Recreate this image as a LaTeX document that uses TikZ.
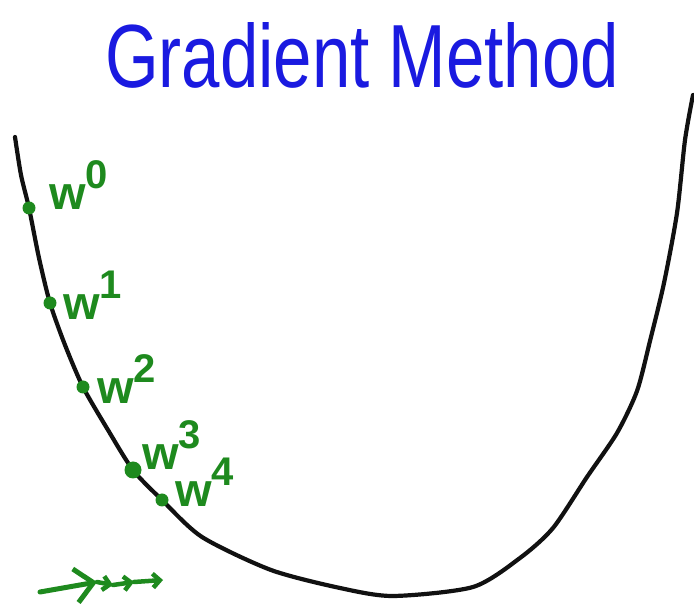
\documentclass[tikz,border=0pt]{standalone}
\usepackage{fontspec}
\setmainfont{Liberation Sans}
\usepackage{tikz}
\usetikzlibrary{arrows.meta}
\definecolor{cTitle}{HTML}{1A1AE0}
\definecolor{cIter}{HTML}{1E8A1E}
\definecolor{cInk}{HTML}{111111}
\newcommand\witer[1]{w\raisebox{0.45em}{\fontsize{40}{40}\selectfont #1}}
\tikzset{
  title/.style    = {text=cTitle, font=\fontsize{69}{69}\selectfont,
                     yscale=1.3, transform shape, inner sep=0pt},
  lossline/.style = {draw=cInk, line width=4.2pt, line cap=round, line join=round},
  iterdot/.style  = {circle, fill=cIter, inner sep=0pt, minimum size=13pt},
  iterlab/.style  = {text=cIter, font=\fontsize{47}{47}\selectfont\bfseries,
                     inner sep=0pt, anchor=base west},
  stepbig/.style  = {draw=cIter, line width=5pt, line cap=round,
                     -{Straight Barb[length=18pt, width=34pt]}},
  stepsmall/.style = {draw=cIter, line width=4.5pt, line cap=round,
                     -{Straight Barb[length=7pt, width=14pt]}},
}
\begin{document}
\begin{tikzpicture}[x=1pt, y=1pt]
  \useasboundingbox (0,0) rectangle (694,616);
  % ---- title ----
  \node[title, anchor=base] (ttl) at (362,528) {Gradient Method};
  % ---- loss curve ----
  \draw[lossline] plot[smooth, tension=0.45] coordinates {
    (15,479) (21,441) (29,408) (39,358) (50,313) (65,271) (83,229)
    (108,186) (133,146) (162,116) (202,79) (271,46) (340,28) (393,20)
    (473,29) (520,58) (553,88) (587,139) (617,183) (637,225) (650,275)
    (664,333) (677,403) (685,476) (693,521)};
  % ---- iterates ----
  \node[iterdot] (w0) at (29,408) {};
  \node[iterdot] (w1) at (50,313) {};
  \node[iterdot] (w2) at (83,229) {};
  \node[iterdot, minimum size=17pt] (w3) at (133,146) {};
  \node[iterdot] (w4) at (162,116) {};
  \node[iterlab] (l0) at (49,406) {\witer{0}};
  \node[iterlab] (l1) at (63,296) {\witer{1}};
  \node[iterlab] (l2) at (97,212) {\witer{2}};
  \node[iterlab] (l3) at (142,146) {\witer{3}};
  \node[iterlab] (l4) at (175,109) {\witer{4}};
  % ---- steps ----
  \coordinate (a0) at (40,24);
  \coordinate (a1) at (97,34);
  \coordinate (a2) at (113,31);
  \coordinate (a3) at (134,34);
  \coordinate (a4) at (163,36);
  \draw[stepbig] (a0) -- (a1);
  \draw[stepsmall] (a1) -- (a2);
  \draw[stepsmall] (a2) -- (a3);
  \draw[stepsmall] (a3) -- (a4);
\end{tikzpicture}
\end{document}
